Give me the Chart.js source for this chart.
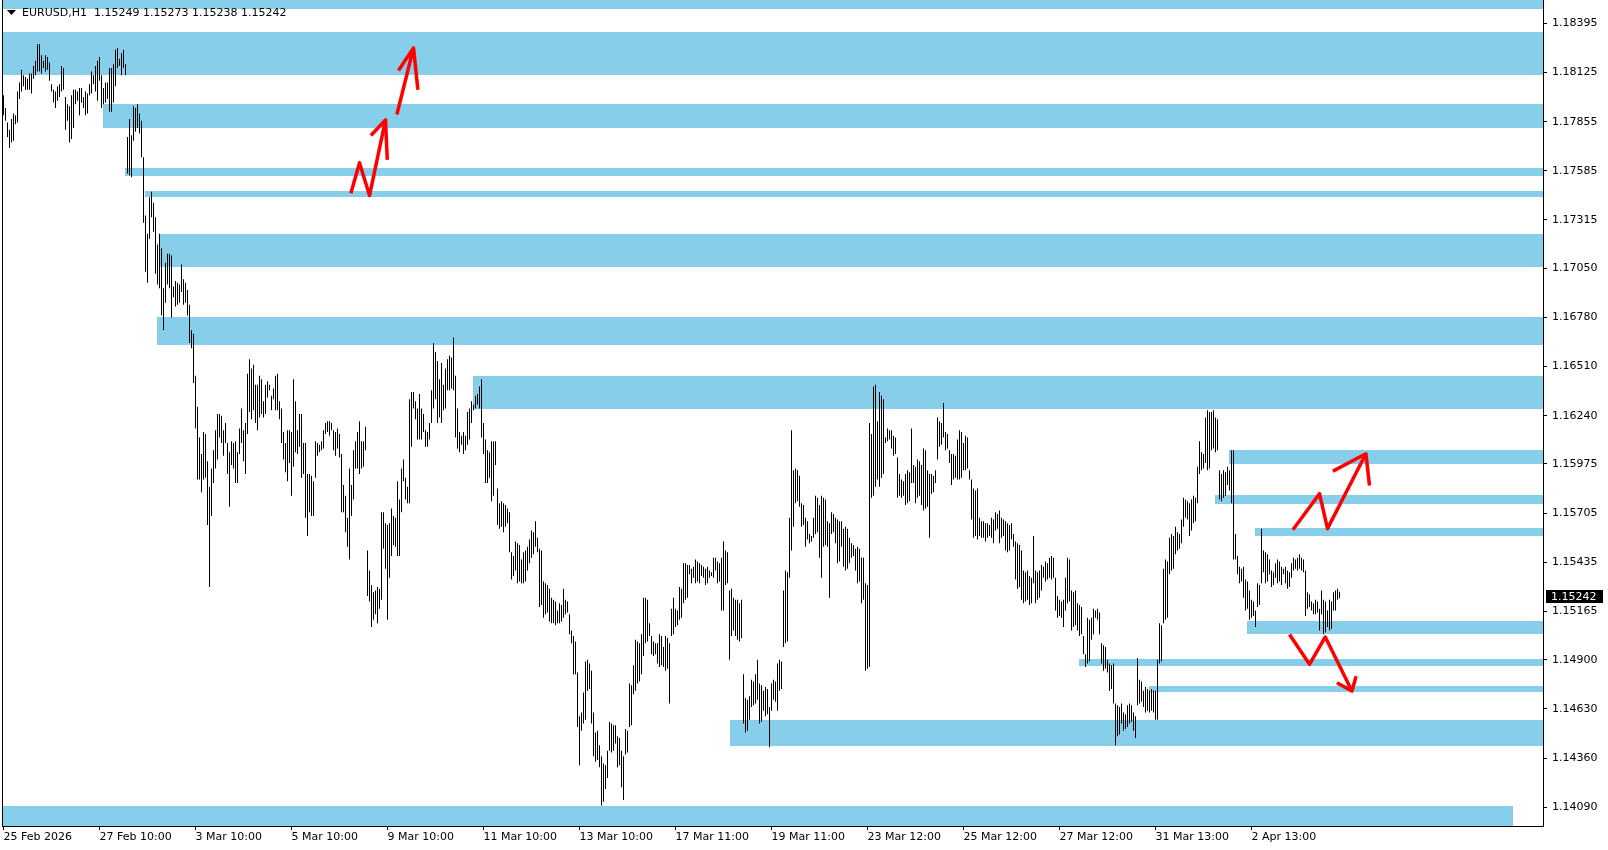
<!DOCTYPE html>
<html>
<head>
<meta charset="utf-8">
<title>EURUSD,H1</title>
<script src="https://cdn.jsdelivr.net/npm/chart.js@4.4.1/dist/chart.umd.min.js"></script>
<style>
  html, body { margin: 0; padding: 0; background: #fff; }
  canvas { display: block; }
</style>
</head>
<body>
<canvas id="priceChart" width="1608" height="850"></canvas>
<script>
const symbol = 'EURUSD,H1';
const lastBar = [1.15249, 1.15273, 1.15238, 1.15242]; // O H L C of the current bar

// hourly bars, one high and one low per bar
const highs = [
  1.1800,1.1793,1.1785,1.1781,1.1787,1.1790,1.1789,1.1802,1.1807,1.1814,
  1.1811,1.1810,1.1809,1.1812,1.1812,1.1816,1.1819,1.1828,1.1828,1.1822,
  1.1819,1.1822,1.1821,1.1818,1.1806,1.1803,1.1802,1.1805,1.1806,1.1816,
  1.1815,1.1799,1.1795,1.1794,1.1800,1.1803,1.1803,1.1802,1.1804,1.1804,
  1.1799,1.1802,1.1801,1.1806,1.1813,1.1811,1.1816,1.1819,1.1821,1.1811,
  1.1804,1.1807,1.1807,1.1815,1.1815,1.1817,1.1825,1.1826,1.1820,1.1823,
  1.1825,1.1817,1.1777,1.1787,1.1778,1.1794,1.1793,1.1795,1.1790,1.1786,
  1.1766,1.1734,1.1724,1.1744,1.1747,1.1741,1.1733,1.1718,1.1724,1.1716,
  1.1694,1.1708,1.1713,1.1713,1.1712,1.1695,1.1698,1.1697,1.1696,1.1707,
  1.1699,1.1697,1.1693,1.1685,1.1671,1.1669,1.1646,1.1629,1.1612,1.1603,
  1.1615,1.1614,1.1599,1.1585,1.1595,1.1605,1.1616,1.1625,1.1625,1.1624,
  1.1616,1.1620,1.1609,1.1604,1.1610,1.1609,1.1610,1.1604,1.1617,1.1628,
  1.1616,1.1620,1.1647,1.1655,1.1650,1.1652,1.1641,1.1641,1.1646,1.1644,
  1.1632,1.1641,1.1643,1.1641,1.1635,1.1639,1.1646,1.1647,1.1632,1.1628,
  1.1615,1.1609,1.1616,1.1616,1.1615,1.1644,1.1632,1.1616,1.1625,1.1625,
  1.1609,1.1609,1.1592,1.1592,1.1591,1.1588,1.1610,1.1609,1.1608,1.1610,
  1.1616,1.1620,1.1621,1.1621,1.1620,1.1616,1.1615,1.1617,1.1614,1.1603,
  1.1586,1.1580,1.1568,1.1595,1.1586,1.1605,1.1610,1.1615,1.1621,1.1610,
  1.1610,1.1618,1.1550,1.1539,1.1531,1.1527,1.1528,1.1530,1.1529,1.1571,
  1.1571,1.1565,1.1564,1.1565,1.1573,1.1569,1.1568,1.1588,1.1578,1.1595,
  1.1600,1.1590,1.1585,1.1633,1.1637,1.1637,1.1632,1.1628,1.1636,1.1628,
  1.1625,1.1616,1.1615,1.1620,1.1638,1.1664,1.1659,1.1654,1.1644,1.1653,
  1.1641,1.1650,1.1655,1.1657,1.1656,1.1667,1.1646,1.1628,1.1615,1.1613,
  1.1615,1.1613,1.1626,1.1628,1.1632,1.1630,1.1635,1.1636,1.1640,1.1644,
  1.1620,1.1611,1.1605,1.1604,1.1610,1.1610,1.1610,1.1584,1.1576,1.1577,
  1.1576,1.1575,1.1573,1.1571,1.1549,1.1547,1.1555,1.1554,1.1553,1.1545,
  1.1549,1.1550,1.1552,1.1556,1.1561,1.1560,1.1566,1.1557,1.1551,1.1550,
  1.1533,1.1532,1.1531,1.1529,1.1524,1.1523,1.1522,1.1517,1.1521,1.1520,
  1.1529,1.1523,1.1522,1.1515,1.1506,1.1503,1.1500,1.1483,1.1459,1.1461,
  1.1472,1.1489,1.1490,1.1488,1.1484,1.1461,1.1450,1.1451,1.1443,1.1437,
  1.1433,1.1432,1.1440,1.1456,1.1455,1.1454,1.1454,1.1448,1.1447,1.1440,
  1.1437,1.1452,1.1451,1.1477,1.1476,1.1487,1.1501,1.1500,1.1499,1.1504,
  1.1524,1.1524,1.1523,1.1510,1.1503,1.1500,1.1499,1.1499,1.1504,1.1503,
  1.1497,1.1503,1.1502,1.1499,1.1518,1.1524,1.1518,1.1517,1.1530,1.1529,
  1.1543,1.1543,1.1542,1.1542,1.1540,1.1541,1.1545,1.1544,1.1543,1.1542,
  1.1541,1.1540,1.1541,1.1539,1.1538,1.1546,1.1546,1.1544,1.1543,1.1546,
  1.1555,1.1550,1.1549,1.1528,1.1529,1.1524,1.1523,1.1523,1.1521,1.1523,
  1.1482,1.1469,1.1468,1.1470,1.1479,1.1478,1.1482,1.1490,1.1477,1.1476,
  1.1473,1.1475,1.1474,1.1464,1.1477,1.1479,1.1478,1.1488,1.1490,1.1489,
  1.1528,1.1539,1.1538,1.1568,1.1616,1.1594,1.1595,1.1594,1.1591,1.1576,
  1.1575,1.1568,1.1566,1.1559,1.1558,1.1568,1.1580,1.1579,1.1575,1.1580,
  1.1579,1.1578,1.1566,1.1565,1.1571,1.1570,1.1568,1.1567,1.1566,1.1566,
  1.1562,1.1563,1.1562,1.1557,1.1554,1.1553,1.1551,1.1552,1.1551,1.1546,
  1.1546,1.1532,1.1531,1.1620,1.1614,1.1640,1.1641,1.1621,1.1637,1.1635,
  1.1633,1.1612,1.1617,1.1616,1.1616,1.1613,1.1612,1.1601,1.1592,1.1589,
  1.1588,1.1592,1.1594,1.1593,1.1617,1.1597,1.1596,1.1600,1.1599,1.1597,
  1.1606,1.1605,1.1594,1.1592,1.1592,1.1591,1.1594,1.1623,1.1621,1.1620,
  1.1631,1.1615,1.1614,1.1605,1.1603,1.1603,1.1602,1.1611,1.1616,1.1615,
  1.1609,1.1613,1.1612,1.1594,1.1589,1.1584,1.1583,1.1584,1.1568,1.1566,
  1.1566,1.1565,1.1565,1.1564,1.1568,1.1567,1.1571,1.1570,1.1572,1.1568,
  1.1567,1.1566,1.1565,1.1564,1.1565,1.1559,1.1555,1.1554,1.1553,1.1550,
  1.1539,1.1538,1.1539,1.1536,1.1535,1.1558,1.1539,1.1538,1.1539,1.1542,
  1.1541,1.1544,1.1543,1.1546,1.1547,1.1546,1.1535,1.1525,1.1523,1.1522,
  1.1523,1.1535,1.1546,1.1545,1.1528,1.1527,1.1528,1.1521,1.1520,1.1519,
  1.1503,1.1493,1.1513,1.1512,1.1513,1.1518,1.1517,1.1518,1.1516,1.1499,
  1.1498,1.1497,1.1490,1.1488,1.1487,1.1488,1.1466,1.1465,1.1464,1.1466,
  1.1461,1.1460,1.1465,1.1466,1.1465,1.1461,1.1459,1.1491,1.1479,1.1478,
  1.1473,1.1475,1.1474,1.1473,1.1474,1.1473,1.1473,1.1490,1.1510,1.1509,
  1.1540,1.1545,1.1544,1.1557,1.1559,1.1558,1.1563,1.1560,1.1559,1.1567,
  1.1579,1.1578,1.1577,1.1576,1.1578,1.1580,1.1579,1.1596,1.1610,1.1604,
  1.1603,1.1623,1.1627,1.1626,1.1626,1.1627,1.1623,1.1622,1.1594,1.1592,
  1.1594,1.1593,1.1596,1.1594,1.1605,1.1605,1.1559,1.1547,1.1541,1.1540,
  1.1541,1.1534,1.1533,1.1528,1.1523,1.1522,1.1517,1.1532,1.1531,1.1562,
  1.1550,1.1549,1.1548,1.1545,1.1539,1.1538,1.1543,1.1545,1.1544,1.1541,
  1.1540,1.1541,1.1539,1.1538,1.1543,1.1546,1.1545,1.1546,1.1548,1.1546,
  1.1545,1.1539,1.1527,1.1526,1.1522,1.1521,1.1523,1.1522,1.1518,1.1528,
  1.1523,1.1522,1.1517,1.1523,1.1522,1.1527,1.1528,1.1529,1.15273
];
const lows = [
  1.1789,1.1786,1.1777,1.1771,1.1774,1.1775,1.1784,1.1785,1.1798,1.1802,
  1.1805,1.1803,1.1803,1.1803,1.1801,1.1809,1.1811,1.1813,1.1813,1.1812,
  1.1815,1.1813,1.1814,1.1808,1.1802,1.1796,1.1793,1.1797,1.1799,1.1802,
  1.1803,1.1781,1.1786,1.1774,1.1776,1.1782,1.1795,1.1797,1.1789,1.1796,
  1.1793,1.1789,1.1790,1.1800,1.1801,1.1806,1.1802,1.1797,1.1808,1.1793,
  1.1795,1.1796,1.1798,1.1791,1.1791,1.1796,1.1805,1.1815,1.1816,1.1811,
  1.1815,1.1811,1.1757,1.1756,1.1755,1.1775,1.1780,1.1782,1.1779,1.1766,
  1.1730,1.1703,1.1697,1.1721,1.1733,1.1725,1.1702,1.1696,1.1694,1.1679,
  1.1671,1.1686,1.1696,1.1694,1.1678,1.1689,1.1684,1.1685,1.1686,1.1692,
  1.1685,1.1686,1.1679,1.1664,1.1661,1.1642,1.1617,1.1589,1.1589,1.1582,
  1.1589,1.1590,1.1564,1.1530,1.1569,1.1587,1.1595,1.1600,1.1612,1.1609,
  1.1602,1.1609,1.1592,1.1574,1.1597,1.1595,1.1587,1.1587,1.1603,1.1609,
  1.1599,1.1592,1.1614,1.1626,1.1622,1.1627,1.1620,1.1616,1.1623,1.1625,
  1.1623,1.1625,1.1634,1.1638,1.1627,1.1633,1.1627,1.1627,1.1622,1.1609,
  1.1600,1.1593,1.1588,1.1598,1.1580,1.1596,1.1604,1.1603,1.1607,1.1590,
  1.1592,1.1568,1.1558,1.1571,1.1569,1.1569,1.1590,1.1602,1.1604,1.1605,
  1.1606,1.1614,1.1615,1.1613,1.1616,1.1605,1.1602,1.1606,1.1601,1.1571,
  1.1571,1.1560,1.1552,1.1545,1.1569,1.1578,1.1595,1.1595,1.1592,1.1595,
  1.1596,1.1605,1.1525,1.1522,1.1508,1.1512,1.1515,1.1510,1.1518,1.1523,
  1.1551,1.1540,1.1512,1.1535,1.1547,1.1553,1.1552,1.1547,1.1547,1.1571,
  1.1588,1.1578,1.1576,1.1576,1.1607,1.1628,1.1622,1.1611,1.1611,1.1611,
  1.1615,1.1607,1.1607,1.1611,1.1620,1.1628,1.1633,1.1620,1.1623,1.1620,
  1.1627,1.1628,1.1638,1.1638,1.1639,1.1638,1.1612,1.1606,1.1604,1.1608,
  1.1603,1.1605,1.1608,1.1611,1.1620,1.1627,1.1628,1.1630,1.1628,1.1612,
  1.1603,1.1587,1.1587,1.1590,1.1577,1.1580,1.1597,1.1564,1.1562,1.1563,
  1.1560,1.1563,1.1565,1.1549,1.1534,1.1536,1.1539,1.1532,1.1533,1.1532,
  1.1532,1.1533,1.1539,1.1543,1.1546,1.1548,1.1552,1.1549,1.1519,1.1520,
  1.1513,1.1515,1.1516,1.1511,1.1510,1.1510,1.1509,1.1510,1.1510,1.1511,
  1.1513,1.1515,1.1516,1.1504,1.1499,1.1482,1.1482,1.1453,1.1432,1.1451,
  1.1455,1.1457,1.1473,1.1474,1.1455,1.1437,1.1434,1.1435,1.1431,1.1410,
  1.1412,1.1419,1.1425,1.1440,1.1439,1.1440,1.1444,1.1431,1.1432,1.1420,
  1.1413,1.1438,1.1439,1.1453,1.1454,1.1471,1.1473,1.1477,1.1478,1.1482,
  1.1492,1.1499,1.1500,1.1503,1.1493,1.1492,1.1493,1.1488,1.1486,1.1487,
  1.1486,1.1484,1.1485,1.1466,1.1503,1.1504,1.1508,1.1509,1.1512,1.1513,
  1.1521,1.1523,1.1524,1.1537,1.1532,1.1535,1.1532,1.1533,1.1532,1.1536,
  1.1535,1.1531,1.1532,1.1535,1.1536,1.1535,1.1539,1.1532,1.1533,1.1517,
  1.1517,1.1531,1.1532,1.1490,1.1503,1.1506,1.1503,1.1501,1.1500,1.1502,
  1.1455,1.1450,1.1451,1.1457,1.1464,1.1465,1.1466,1.1468,1.1455,1.1456,
  1.1462,1.1459,1.1460,1.1442,1.1462,1.1468,1.1467,1.1462,1.1473,1.1474,
  1.1497,1.1499,1.1500,1.1535,1.1550,1.1563,1.1576,1.1577,1.1574,1.1563,
  1.1564,1.1552,1.1556,1.1554,1.1555,1.1557,1.1559,1.1560,1.1546,1.1535,
  1.1552,1.1553,1.1552,1.1524,1.1559,1.1560,1.1554,1.1543,1.1544,1.1552,
  1.1541,1.1539,1.1540,1.1543,1.1546,1.1547,1.1539,1.1532,1.1533,1.1521,
  1.1523,1.1484,1.1485,1.1486,1.1579,1.1580,1.1585,1.1589,1.1585,1.1590,
  1.1592,1.1609,1.1610,1.1611,1.1606,1.1602,1.1603,1.1579,1.1580,1.1579,
  1.1580,1.1575,1.1576,1.1577,1.1587,1.1587,1.1576,1.1579,1.1580,1.1575,
  1.1572,1.1573,1.1574,1.1557,1.1581,1.1582,1.1587,1.1600,1.1607,1.1608,
  1.1612,1.1605,1.1606,1.1598,1.1586,1.1589,1.1590,1.1589,1.1589,1.1590,
  1.1594,1.1594,1.1595,1.1589,1.1567,1.1557,1.1558,1.1556,1.1558,1.1557,
  1.1557,1.1555,1.1557,1.1558,1.1557,1.1554,1.1561,1.1562,1.1554,1.1557,
  1.1558,1.1550,1.1549,1.1550,1.1556,1.1552,1.1534,1.1529,1.1530,1.1523,
  1.1521,1.1522,1.1523,1.1520,1.1521,1.1532,1.1521,1.1523,1.1524,1.1528,
  1.1535,1.1533,1.1534,1.1535,1.1534,1.1535,1.1517,1.1513,1.1514,1.1513,
  1.1508,1.1517,1.1521,1.1522,1.1506,1.1508,1.1509,1.1506,1.1503,1.1504,
  1.1493,1.1486,1.1488,1.1489,1.1501,1.1504,1.1513,1.1512,1.1504,1.1488,
  1.1484,1.1485,1.1483,1.1473,1.1474,1.1466,1.1443,1.1448,1.1449,1.1455,
  1.1451,1.1452,1.1453,1.1455,1.1456,1.1451,1.1447,1.1465,1.1466,1.1467,
  1.1464,1.1461,1.1462,1.1461,1.1462,1.1461,1.1457,1.1457,1.1488,1.1489,
  1.1510,1.1512,1.1513,1.1537,1.1539,1.1540,1.1548,1.1550,1.1551,1.1554,
  1.1563,1.1568,1.1567,1.1558,1.1561,1.1565,1.1566,1.1576,1.1592,1.1594,
  1.1595,1.1598,1.1594,1.1595,1.1605,1.1606,1.1604,1.1605,1.1578,1.1577,
  1.1579,1.1580,1.1586,1.1583,1.1576,1.1545,1.1545,1.1537,1.1532,1.1533,
  1.1524,1.1517,1.1518,1.1512,1.1513,1.1514,1.1508,1.1519,1.1520,1.1532,
  1.1538,1.1532,1.1533,1.1537,1.1530,1.1531,1.1535,1.1532,1.1533,1.1531,
  1.1537,1.1532,1.1529,1.1530,1.1535,1.1539,1.1540,1.1539,1.1540,1.1539,
  1.1538,1.1514,1.1518,1.1519,1.1517,1.1515,1.1515,1.1516,1.1506,1.1515,
  1.1504,1.1505,1.1508,1.1506,1.1507,1.1517,1.1517,1.1523,1.15238
];

// time axis: bar number of each label and its text
const timeTickBars = [0, 48, 96, 144, 192, 240, 288, 336, 384, 432, 480, 528, 576, 624];
const timeLabels = ['25 Feb 2026', '27 Feb 10:00', '3 Mar 10:00', '5 Mar 10:00', '9 Mar 10:00',
  '11 Mar 10:00', '13 Mar 10:00', '17 Mar 11:00', '19 Mar 11:00', '23 Mar 12:00',
  '25 Mar 12:00', '27 Mar 12:00', '31 Mar 13:00', '2 Apr 13:00'];

const priceTicks = [1.18395, 1.18125, 1.17855, 1.17585, 1.17315, 1.17050, 1.16780, 1.16510,
  1.16240, 1.15975, 1.15705, 1.15435, 1.15165, 1.14900, 1.14630, 1.14360, 1.14090];

// supply / demand zones (start bar, end bar or null = right edge, price top, price bottom)
const zoneFrom = [null, null, 49.5, 60.75, 70.75, 77.75, 76.75, 234.75, 612.75, 605.75, 625.75, 621.75, 537.75, 572.75, 363.25, null];
const zoneTo   = [null, null, null, null, null, null, null, null, null, null, null, null, null, null, null, 754.75];
const zoneHigh = [1.18530, 1.18347, 1.17952, 1.17599, 1.17474, 1.17238, 1.16781, 1.16458, 1.16052, 1.15805, 1.15624, 1.15113, 1.14904, 1.14756, 1.14569, 1.14097];
const zoneLow  = [1.18472, 1.18113, 1.17822, 1.17558, 1.17443, 1.17058, 1.16630, 1.16279, 1.15977, 1.15757, 1.15581, 1.15043, 1.14868, 1.14725, 1.14428, 1.13980];

// hand drawn arrows, as [bar, price] points
const arrowLines = [
  [[173.7, 1.17462], [178.0, 1.17629], [183.0, 1.17449], [191.0, 1.17865]],
  [[183.7, 1.17779], [191.0, 1.17865], [191.9, 1.17645]],
  [[196.7, 1.17894], [205.0, 1.18260]],
  [[197.5, 1.18136], [205.0, 1.18260], [207.2, 1.18030]],
  [[644.7, 1.15614], [658.0, 1.15812], [662.0, 1.15620], [681.2, 1.16031]],
  [[664.7, 1.15936], [681.2, 1.16031], [683.0, 1.15857]],
  [[643.0, 1.15039], [653.0, 1.14875], [660.9, 1.15025], [674.2, 1.14728]],
  [[666.7, 1.14774], [674.2, 1.14728], [676.3, 1.14809]]
];

const FONT = { family: 'DejaVu Sans', size: 11 };

const zonesPlugin = {
  id: 'zones',
  beforeDatasetsDraw(chart) {
    const { ctx, chartArea: a, scales: { x, y } } = chart;
    ctx.save();
    ctx.beginPath();
    ctx.rect(a.left, a.top, a.right - a.left, a.bottom - a.top);
    ctx.clip();
    ctx.fillStyle = '#87ceeb';
    for (let i = 0; i < zoneHigh.length; i++) {
      const x0 = zoneFrom[i] === null ? a.left : Math.round(x.getPixelForValue(zoneFrom[i]));
      const x1 = zoneTo[i] === null ? a.right : Math.round(x.getPixelForValue(zoneTo[i]));
      const y0 = Math.round(y.getPixelForValue(zoneHigh[i]));
      const y1 = Math.round(y.getPixelForValue(zoneLow[i]));
      ctx.fillRect(x0, y0, x1 - x0, y1 - y0);
    }
    ctx.restore();
  }
};

const framePlugin = {
  id: 'frame',
  afterDraw(chart) {
    const { ctx, chartArea: a, scales: { y } } = chart;
    ctx.save();
    ctx.fillStyle = '#000';
    ctx.fillRect(a.left, a.top, 1, a.bottom - a.top);

    // header line
    ctx.beginPath();
    ctx.moveTo(7, 10); ctx.lineTo(16, 10); ctx.lineTo(11.5, 15);
    ctx.closePath();
    ctx.fill();
    ctx.font = '11px "DejaVu Sans"';
    ctx.textBaseline = 'middle';
    ctx.fillText(symbol, 22, 13);
    ctx.fillText(lastBar.map(v => v.toFixed(5)).join(' '), 94, 13);

    // current price tag
    const py = Math.round(y.getPixelForValue(lastBar[3]));
    ctx.fillRect(a.right + 3, py - 7, 57, 13);
    ctx.fillStyle = '#fff';
    ctx.fillText(lastBar[3].toFixed(5), a.right + 8, py);
    ctx.restore();
  }
};

const barData = highs.map((h, i) => ({ x: i, y: [lows[i], h] }));

const arrowSets = arrowLines.map(pts => ({
  type: 'line',
  data: pts.map(p => ({ x: p[0], y: p[1] })),
  borderColor: '#ff0000',
  borderWidth: 3.5,
  borderJoinStyle: 'round',
  pointRadius: 0,
  tension: 0,
  fill: false,
  order: 0
}));

new Chart(document.getElementById('priceChart'), {
  type: 'bar',
  data: {
    datasets: [{
      data: barData,
      backgroundColor: '#000',
      borderWidth: 0,
      barThickness: 1,
      inflateAmount: 0,
      minBarLength: 1,
      order: 1
    }, ...arrowSets]
  },
  options: {
    responsive: false,
    animation: false,
    devicePixelRatio: 1,
    layout: { padding: { left: 2, top: 0, right: 0, bottom: 0 } },
    plugins: { legend: { display: false }, tooltip: { enabled: false } },
    scales: {
      x: {
        type: 'linear',
        min: -0.75,
        max: 769.75,
        offset: false,
        afterBuildTicks: s => { s.ticks = timeTickBars.map(v => ({ value: v })); },
        afterFit: s => { s.height = 24; s.paddingLeft = 0; s.paddingRight = 0; },
        grid: { offset: false, drawOnChartArea: false, drawTicks: true, tickLength: 4, color: '#000' },
        border: { display: true, color: '#000', width: 1 },
        ticks: {
          autoSkip: false, maxRotation: 0, minRotation: 0, align: 'start', padding: 1,
          color: '#000', font: FONT,
          callback: (v, i) => timeLabels[i]
        }
      },
      y: {
        type: 'linear',
        position: 'right',
        min: 1.13987,
        max: 1.18523,
        beginAtZero: false,
        afterBuildTicks: s => { s.ticks = priceTicks.map(v => ({ value: v })); },
        afterFit: s => { s.width = 65; s.paddingTop = 0; s.paddingBottom = 0; },
        grid: { drawOnChartArea: false, drawTicks: true, tickLength: 4, color: '#000' },
        border: { display: true, color: '#000', width: 1 },
        ticks: {
          autoSkip: false, padding: 5, color: '#000', font: FONT,
          callback: v => v.toFixed(5)
        }
      }
    }
  },
  plugins: [zonesPlugin, framePlugin]
});
</script>
</body>
</html>
